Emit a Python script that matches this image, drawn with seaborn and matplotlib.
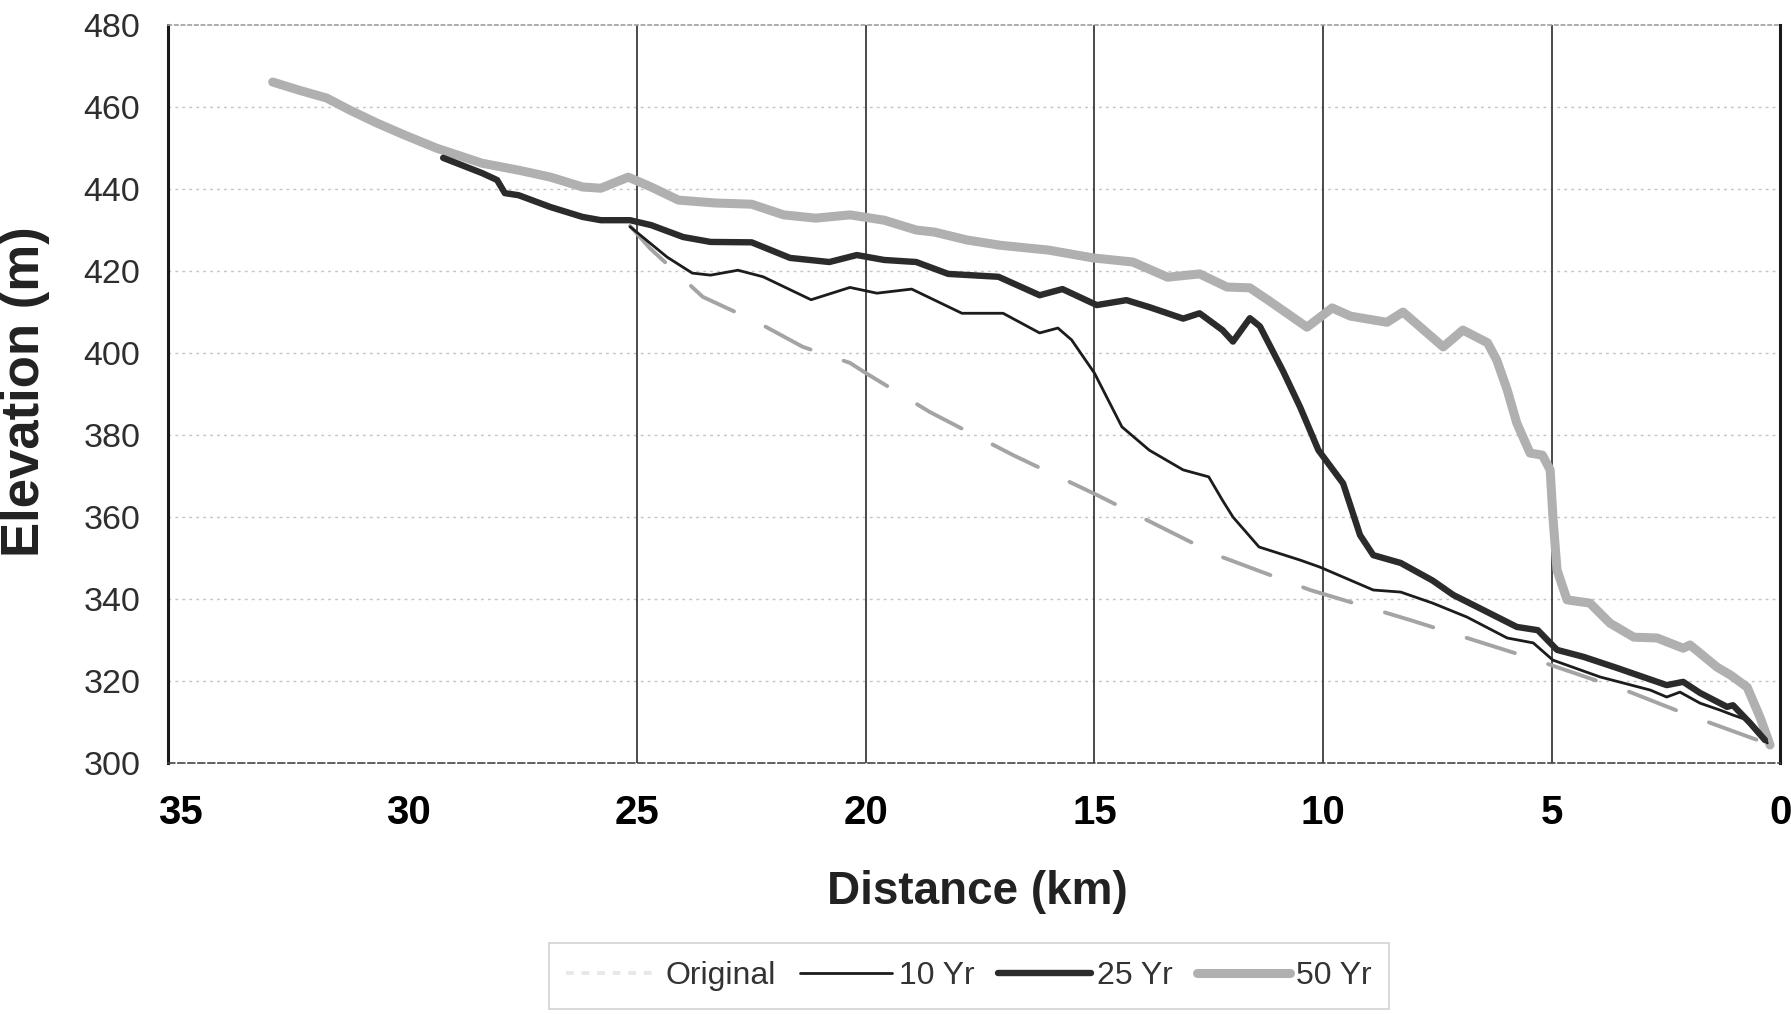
import matplotlib
matplotlib.use("Agg")
import matplotlib.pyplot as plt
import seaborn as sns
import pandas as pd
from matplotlib.lines import Line2D

# ---------------- data ----------------
orig_d = [25.16, 24.73, 23.57, 22.39, 21.38, 20.35, 20.0, 18.6, 16.78, 14.95,
          12.32, 10.28, 8.1, 5.54, 3.28, 2.12, 0.37, 0.0]
orig_e = [431.0, 425.6, 413.7, 407.6, 401.5, 397.6, 395.1, 385.6, 375.1, 365.4,
          350.7, 342.2, 334.9, 325.9, 317.3, 312.2, 305.1, 304.5]

yr10_d = [25.16, 24.35, 23.8, 23.4, 22.8, 22.25, 21.2, 20.35, 19.76, 19.0,
          17.9, 17.0, 16.2, 15.8, 15.5, 15.0, 14.4, 13.8, 13.06, 12.5,
          12.2, 11.97, 11.4, 10.5, 10.07, 8.9, 8.3, 7.6, 6.85, 5.97,
          5.4, 4.97, 3.94, 2.84, 2.48, 2.19, 1.75, 1.31, 1.03, 0.72,
          0.37, 0.28]
yr10_e = [430.8, 423.4, 419.5, 419.0, 420.2, 418.6, 413.0, 416.0, 414.6, 415.6,
          409.7, 409.7, 404.9, 406.1, 403.2, 395.1, 382.0, 376.3, 371.5, 369.8,
          364.1, 360.0, 352.7, 349.5, 347.8, 342.2, 341.7, 339.0, 335.6, 330.5,
          329.3, 325.1, 321.0, 317.8, 316.1, 317.3, 314.6, 312.9, 311.7, 310.5,
          306.3, 304.9]

yr25_d = [29.25, 28.4, 28.07, 27.9, 27.6, 26.9, 26.2, 25.8, 25.16, 24.7,
          24.0, 23.4, 22.5, 21.66, 20.8, 20.2, 19.6, 18.9, 18.2, 17.1,
          16.2, 15.7, 14.95, 14.3, 13.8, 13.06, 12.7, 12.2, 11.97, 11.6,
          11.38, 10.87, 10.5, 10.1, 9.56, 9.19, 8.9, 8.3, 7.6, 7.15,
          6.4, 5.76, 5.3, 4.88, 4.3, 3.57, 2.48, 2.12, 1.75, 1.16,
          1.03, 0.66, 0.33]
yr25_e = [447.6, 443.9, 442.2, 439.0, 438.5, 435.6, 433.2, 432.4, 432.4, 431.2,
          428.3, 427.1, 427.0, 423.2, 422.2, 423.9, 422.7, 422.2, 419.3, 418.6,
          414.1, 415.6, 411.7, 412.9, 411.2, 408.4, 409.7, 405.6, 402.8, 408.5,
          406.5, 395.5, 386.8, 376.3, 368.2, 355.6, 350.7, 348.8, 344.5, 341.0,
          336.8, 333.2, 332.4, 327.6, 325.9, 323.2, 319.0, 319.8, 317.1, 313.7,
          314.1, 309.8, 305.6]

yr50_d = [32.98, 32.4, 31.8, 31.3, 30.7, 30.1, 29.4, 28.4, 27.6, 26.9,
          26.2, 25.8, 25.2, 24.7, 24.1, 23.3, 22.5, 21.8, 21.1, 20.35,
          19.6, 18.9, 18.5, 17.8, 17.07, 16.0, 15.03, 14.16, 13.4, 12.7,
          12.1, 11.6, 11.2, 10.35, 9.8, 9.4, 8.6, 8.25, 7.37, 6.94,
          6.4, 6.2, 5.97, 5.76, 5.47, 5.2, 5.03, 4.97, 4.88, 4.66,
          4.16, 3.72, 3.2, 2.69, 2.12, 1.97, 1.38, 1.09, 0.72, 0.44,
          0.28, 0.22]
yr50_e = [466.1, 464.1, 462.2, 459.3, 456.1, 453.2, 450.0, 446.3, 444.6, 442.9,
          440.5, 440.2, 442.9, 440.5, 437.3, 436.6, 436.3, 433.7, 432.9, 433.7,
          432.4, 430.0, 429.5, 427.6, 426.3, 425.1, 423.2, 422.2, 418.5, 419.3,
          416.1, 415.9, 412.9, 406.3, 411.0, 409.0, 407.5, 410.0, 401.5, 405.6,
          402.5, 398.3, 391.0, 382.9, 375.6, 375.1, 371.5, 360.0, 347.1, 339.8,
          339.0, 334.1, 330.7, 330.5, 328.0, 328.8, 323.4, 321.5, 318.5, 311.2,
          306.3, 304.4]

series_names = ["Original", "10 Yr", "25 Yr", "50 Yr"]
x_ticks = [35, 30, 25, 20, 15, 10, 5, 0]
y_ticks = [300, 320, 340, 360, 380, 400, 420, 440, 460, 480]

# ---------------- figure ----------------
sns.set_theme(style="white")
plt.rcParams["font.family"] = ["Liberation Sans", "DejaVu Sans"]

fig = plt.figure(figsize=(17.91, 10.14), dpi=100)
ax = fig.add_axes([0.0938, 0.2475, 0.9001, 0.7278])

styles = {
    "Original": dict(color="#a4a4a4", lw=2.8, dashes=(13, 9)),
    "10 Yr": dict(color="#1c1c1c", lw=2.0),
    "25 Yr": dict(color="#2b2b2b", lw=4.6),
    "50 Yr": dict(color="#b0b0b0", lw=6.5),
}
data = {
    "Original": (orig_d, orig_e),
    "10 Yr": (yr10_d, yr10_e),
    "25 Yr": (yr25_d, yr25_e),
    "50 Yr": (yr50_d, yr50_e),
}

for name in ["50 Yr", "Original", "10 Yr", "25 Yr"]:
    d, e = data[name]
    df = pd.DataFrame({"Distance": d, "Elevation": e})
    st = styles[name]
    sns.lineplot(data=df, x="Distance", y="Elevation", ax=ax, estimator=None,
                 sort=False, color=st["color"], lw=st["lw"],
                 solid_capstyle="round")
    ln = ax.lines[-1]
    if "dashes" in st:
        ln.set_dashes(st["dashes"])
        ln.set_dash_capstyle("round")

leg_handles = []
for name in series_names:
    st = styles[name]
    h = Line2D([0], [0], color=st["color"], lw=st["lw"])
    if "dashes" in st:
        h.set_color("#e8e8e8")
        h.set_dashes((2, 2))
    leg_handles.append(h)

ax.set_xlim(35.27, 0)
ax.set_ylim(300, 480)
ax.set_xticks(x_ticks)
ax.set_xticklabels([str(v) for v in x_ticks])
ax.set_yticks(y_ticks)
ax.set_yticklabels([str(v) for v in y_ticks])

ax.tick_params(axis="y", length=0, pad=20, labelsize=24.5, labelcolor="#2e2e2e")
ax.tick_params(axis="x", length=6, width=1, direction="in", pad=22,
               labelsize=29, labelcolor="#000000")
for lab in ax.get_xticklabels():
    lab.set_fontweight("bold")

# grid
for yv in y_ticks[1:-1]:
    ax.axhline(yv, color="#c4c4c4", lw=1.0, ls=(0, (2, 3)), zorder=0)
for xv in [25, 20, 15, 10, 5]:
    ax.axvline(xv, color="#3c3c3c", lw=1.3, zorder=0)

# spines
ax.spines["left"].set_color("#1a1a1a")
ax.spines["left"].set_linewidth(2.2)
ax.spines["right"].set_color("#1a1a1a")
ax.spines["right"].set_linewidth(2.2)
ax.spines["top"].set_color("#a0a0a0")
ax.spines["top"].set_linewidth(1.2)
ax.spines["top"].set_linestyle((0, (2, 2)))
ax.spines["bottom"].set_color("#444444")
ax.spines["bottom"].set_linewidth(1.2)
ax.spines["bottom"].set_linestyle((0, (4, 2)))

ax.set_xlabel("Distance (km)", fontsize=33, fontweight="bold", color="#222222")
ax.xaxis.set_label_coords(0.502, -0.145)
ax.set_ylabel("Elevation (m)", fontsize=38, fontweight="bold", color="#222222")
ax.yaxis.set_label_coords(-0.073, 0.503)

leg = fig.legend(leg_handles, series_names, loc="center",
                 bbox_to_anchor=(0.541, 0.0375), ncol=4, fontsize=23,
                 handlelength=2.9, handletextpad=0.2, columnspacing=0.75,
                 frameon=True, fancybox=False, borderpad=0.55,
                 markerfirst=True)
leg.get_frame().set_edgecolor("#c8c8c8")
leg.get_frame().set_linewidth(1.2)
for t in leg.get_texts():
    t.set_color("#333333")

fig.savefig("out.png", dpi=100, facecolor="white")
